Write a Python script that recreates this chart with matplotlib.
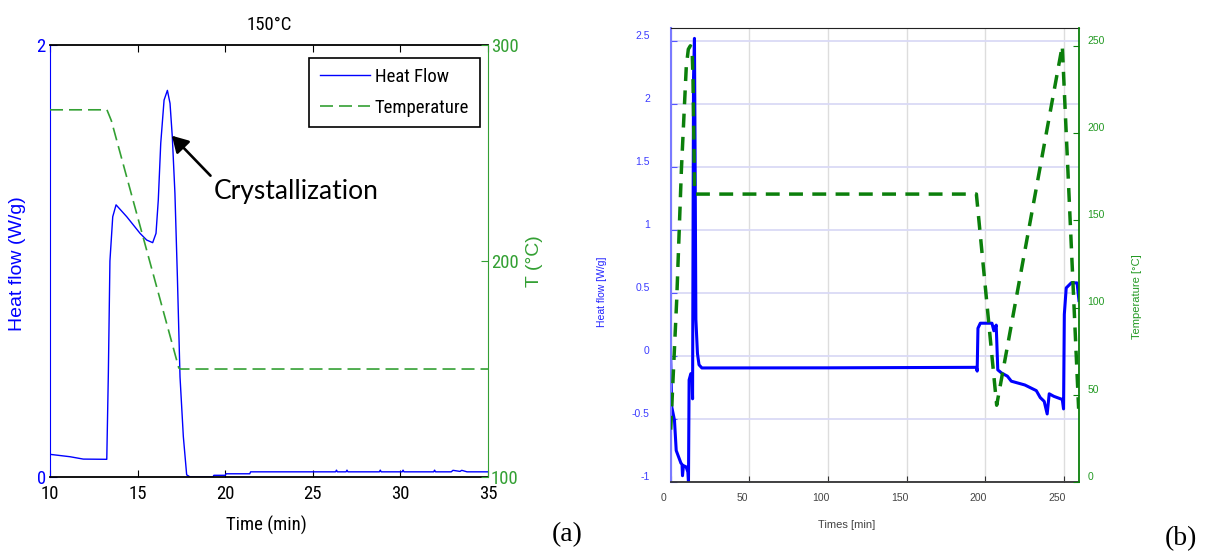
import matplotlib
matplotlib.use('Agg')
import matplotlib.pyplot as plt
import matplotlib.transforms as mtransforms

# (a) isothermal crystallization at 150 C
time_a = [10, 11.14, 11.9, 13.24, 13.33, 13.42, 13.58, 13.77, 14.38, 15.14, 15.52,
          15.86, 16.05, 16.18, 16.32, 16.51, 16.70, 16.85, 16.98, 17.13, 17.27,
          17.42, 17.61, 17.80, 18.0, 19.3, 19.35, 20.0, 20.05, 21.4, 21.45,
          26.3, 26.35, 26.4, 26.9, 26.95, 27.0, 28.8, 28.85, 28.9, 30.1, 30.15,
          30.2, 31.9, 31.95, 32.0, 32.9, 33.0, 33.4, 33.5, 33.8, 35.0]
heat_a = [0.105, 0.094, 0.083, 0.082, 0.48, 1.0, 1.205, 1.26, 1.205, 1.128, 1.097,
          1.085, 1.128, 1.282, 1.545, 1.745, 1.79, 1.73, 1.575, 1.313, 0.927,
          0.464, 0.187, 0.01, 0.0, 0.0, 0.008, 0.008, 0.015, 0.015, 0.024,
          0.024, 0.032, 0.024, 0.024, 0.032, 0.024, 0.024, 0.032, 0.024, 0.024, 0.032,
          0.024, 0.024, 0.032, 0.024, 0.024, 0.031, 0.026, 0.031, 0.024, 0.024]
temp_time_a = [10, 13.25, 13.5, 17.35, 17.45, 35]
temp_a = [270, 270, 265, 150.5, 150, 150]

# (b) complete heating / cooling cycle
time_b = [0, 0.6, 2.4, 3.5, 5.0, 6.5, 7.2, 7.5, 8.1, 9.8,
          10.9, 11.3, 11.7, 12.8, 13.6, 13.9, 14.5, 15.1, 15.5, 16.0,
          17.0, 18.0, 19.8, 100, 194.3, 194.8, 195.3, 196.8, 204.2, 205.4,
          206.9, 207.9, 210.3, 214.0, 216.5, 225.1, 232.4, 234.9, 237.4, 239.3,
          240.6, 243.5, 248.9, 249.7, 250.2, 251.4, 254.6, 258.3, 259.5]
heat_b = [-0.03, -0.40, -0.51, -0.75, -0.80, -0.85, -0.86, -0.95, -0.87, -0.88,
          -0.92, -1.0, -0.19, -0.14, -0.18, -0.34, 2.2, 2.52, 1.6, 0.29,
          0.02, -0.07, -0.095, -0.094, -0.09, -0.12, 0.22, 0.26, 0.26, 0.20,
          0.245, -0.11, -0.135, -0.16, -0.20, -0.23, -0.275, -0.33, -0.36, -0.46,
          -0.30, -0.32, -0.345, -0.42, 0.33, 0.54, 0.58, 0.58, 0.44]
temp_time_b = [0, 3.8, 6.8, 9.9, 11.2, 12.5, 13.6, 14.2, 15.2, 194.3,
               207.2, 248.9, 259.3]
temp_b = [30, 104, 179, 238, 248, 250, 248, 230, 165, 165,
          44, 250, 42]

# narrow face for the left panel text, first one found is used
narrow = ['Liberation Sans Narrow', 'DejaVu Sans Condensed', 'Noto Sans Condensed',
          'Roboto Condensed', 'Open Sans Condensed', 'DejaVu Sans']
sans = ['Liberation Sans', 'DejaVu Sans']
serif = ['Liberation Serif', 'DejaVu Serif']
nsize = 13.5

blue = '#0000ff'
green_a = '#33a033'
green_b = '#0b7f0b'

fig = plt.figure(figsize=(12.05, 5.55), dpi=100)

# ---------------- panel (a) ----------------
ax1 = fig.add_axes([0.0415, 0.1405, 0.3635, 0.7784])
line_hf, = ax1.plot(time_a, heat_a, color=blue, lw=1.0, label='Heat Flow')
ax1.set_xlim(10, 35)
ax1.set_ylim(0, 2)
ax1.set_xticks([10, 15, 20, 25, 30, 35])
ax1.set_yticks([0, 2])
ax1.tick_params(axis='x', direction='in', length=5, top=True, pad=6,
                labelsize=nsize, labelfontfamily=narrow)
ax1.tick_params(axis='y', direction='in', length=5, colors=blue, pad=3,
                labelsize=nsize, labelfontfamily=narrow)
ax1.spines['left'].set_color(blue)
ax1.spines['right'].set_visible(False)
for s in ['top', 'bottom']:
    ax1.spines[s].set_linewidth(1.3)

ax2 = ax1.twinx()
line_t, = ax2.plot(temp_time_a, temp_a, color=green_a, lw=1.2, dashes=(7.8, 3.6),
                   label='Temperature')
ax2.set_ylim(100, 300)
ax2.set_yticks([100, 200, 300])
ax2.tick_params(axis='y', direction='in', length=5, colors=green_a, pad=2,
                labelsize=nsize, labelfontfamily=narrow)
for s in ['left', 'top', 'bottom']:
    ax2.spines[s].set_visible(False)
ax2.spines['right'].set_color(green_a)

for lab in ax1.get_xticklabels() + ax1.get_yticklabels() + ax2.get_yticklabels():
    lab.set_fontstretch('condensed')

ax1.set_ylabel('Heat flow (W/g)', color=blue, fontsize=14, family=sans, va='center')
ax1.yaxis.set_label_coords(-0.0753, 0.495)
ax2.set_ylabel('T (°C)', color=green_a, fontsize=14, family=sans, va='center')
ax2.yaxis.set_label_coords(1.105, 0.5)
ax1.set_xlabel('Time (min)', fontsize=nsize, family=narrow, stretch='condensed',
               va='center')
ax1.xaxis.set_label_coords(0.493, -0.111)
ax1.set_title('150°C', fontsize=nsize, family=narrow, stretch='condensed',
              y=1.035, pad=0)

leg = ax2.legend([line_hf, line_t], ['Heat Flow', 'Temperature'], loc='upper right',
                 bbox_to_anchor=(0.9806, 0.971), borderaxespad=0, fancybox=False,
                 framealpha=1, edgecolor='black', handlelength=2.7,
                 handletextpad=0.25, labelspacing=0.7, borderpad=0.55,
                 prop={'family': narrow, 'size': nsize, 'stretch': 'condensed'})
leg.get_frame().set_linewidth(1.2)

# arrow pointing at the crystallization peak
ax2.annotate('', xy=(16.96, 1.58), xytext=(19.16, 1.395),
             xycoords=ax1.transData, textcoords=ax1.transData,
             arrowprops=dict(arrowstyle='-|>,head_length=0.6,head_width=0.35',
                             mutation_scale=16, color='black', lw=1.9,
                             shrinkA=0, shrinkB=0))
ax2.text(19.36, 1.32, 'Crystallization', transform=ax1.transData, fontsize=19,
         family=['Lato', 'DejaVu Sans'], va='center', ha='left')

fig.text(0.471, 0.036, '(a)', fontsize=20, family=serif, ha='center', va='center')

# ---------------- panel (b) ----------------
ax3 = fig.add_axes([0.5566, 0.1315, 0.3388, 0.8175])
ax3.plot(time_b, heat_b, color=blue, lw=2.2, solid_joinstyle='round')
ax3.set_xlim(0, 259.5)
ax3.set_ylim(-1, 2.6)
ax3.set_xticks([0, 50, 100, 150, 200, 250])
ax3.set_yticks([-1, -0.5, 0, 0.5, 1, 1.5, 2, 2.5])
ax3.set_yticklabels(['-1', '-0.5', '0', '0.5', '1', '1.5', '2', '2.5'])
ax3.set_axisbelow(True)
ax3.yaxis.grid(True, color='#dadaf6', lw=1.3)
ax3.xaxis.grid(True, color='#dddddd', lw=1.0)
ax3.tick_params(axis='x', direction='in', length=4, color='#333333',
                labelcolor='#444444', labelsize=7.5, pad=8, labelfontfamily=sans)
ax3.tick_params(axis='y', direction='in', length=4, color='#5555ff',
                labelcolor='#3c3cff', labelsize=7.5, pad=15, labelfontfamily=sans)
ax3.spines['left'].set_color('#7a7aff')
ax3.spines['left'].set_linewidth(1.5)
ax3.spines['bottom'].set_color('#333333')
ax3.spines['bottom'].set_linewidth(1.3)
ax3.spines['top'].set_color('#222222')
ax3.spines['right'].set_visible(False)

ax4 = ax3.twinx()
ax4.plot(temp_time_b, temp_b, color=green_b, lw=2.5, dashes=(4.0, 2.7))
ax4.set_ylim(0, 260)
ax4.set_yticks([0, 50, 100, 150, 200, 250])
ax4.tick_params(axis='y', direction='in', length=4, color=green_b,
                labelcolor='#229922', labelsize=7.5, pad=6, labelfontfamily=sans)
for s in ['left', 'top', 'bottom']:
    ax4.spines[s].set_visible(False)
ax4.spines['right'].set_color(green_b)
ax4.spines['right'].set_linewidth(1.3)

ax3.set_ylabel('Heat flow [W/g]', color='#2222ff', fontsize=7.5, family=sans, va='center')
ax3.yaxis.set_label_coords(-0.168, 0.419)
ax4.set_ylabel('Temperature [°C]', color='#229922', fontsize=8, family=sans, va='center')
ax4.yaxis.set_label_coords(1.141, 0.408)
ax3.set_xlabel('Times [min]', color='#444444', fontsize=8, family=sans, va='center')
ax3.xaxis.set_label_coords(0.432, -0.095)

# nudge the small tick labels the way the plotting program placed them
up = mtransforms.ScaledTranslation(0, 4.5 / 72, fig.dpi_scale_trans)
left = mtransforms.ScaledTranslation(-5 / 72, 0, fig.dpi_scale_trans)
for lab in ax3.get_yticklabels() + ax4.get_yticklabels():
    lab.set_transform(lab.get_transform() + up)
for lab in ax3.get_xticklabels():
    lab.set_transform(lab.get_transform() + left)

fig.text(0.980, 0.03, '(b)', fontsize=20, family=serif, ha='center', va='center')

fig.savefig('out.png', dpi=100)
